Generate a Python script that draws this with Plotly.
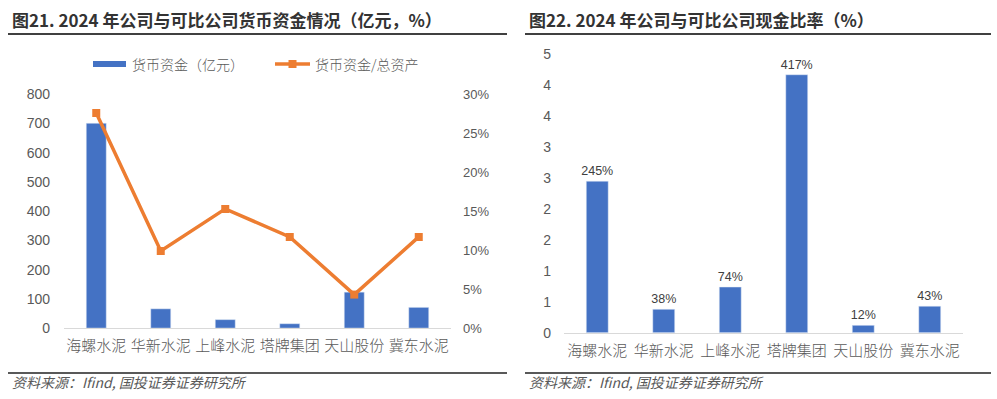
import plotly.graph_objects as go

# ---------------- data ----------------
companies = ["海螺水泥", "华新水泥", "上峰水泥", "塔牌集团", "天山股份", "冀东水泥"]
cash_yi = [701, 66, 29, 15, 123, 71]                       # 货币资金（亿元）
cash_ratio_assets = [0.276, 0.099, 0.153, 0.117, 0.043, 0.117]  # 货币资金/总资产
cash_ratio = [2.45, 0.38, 0.74, 4.17, 0.12, 0.43]           # 现金比率
left_y_ticks = [0, 100, 200, 300, 400, 500, 600, 700, 800]
right_pct_ticks = [0, 0.05, 0.10, 0.15, 0.20, 0.25, 0.30]
right_pct_text = ["0%", "5%", "10%", "15%", "20%", "25%", "30%"]
ratio_tick_vals = [0, 0.5, 1, 1.5, 2, 2.5, 3, 3.5, 4, 4.5]
ratio_tick_text = ["0", "1", "1", "2", "2", "3", "3", "4", "4", "5"]
title_left = "图21. 2024 年公司与可比公司货币资金情况（亿元，%）"
title_right = "图22. 2024 年公司与可比公司现金比率（%）"
legend_bar = "货币资金（亿元）"
legend_line = "货币资金/总资产"
source_text = "资料来源：Ifind, 国投证券证券研究所"

W, H = 997, 407
S = 0.98          # observed vertical factor of the viewer
OFF, K = 7.0, 0.98  # observed offset / compression correction


def px(x):
    return x / W


def py(y):
    yc = (y - OFF) / K
    return (H - yc / S) / H


BLUE = "#4472C4"
ORANGE = "#ED7D31"
GRAY = "#595959"
CJK = "Noto Sans CJK SC"
NUM = "Liberation Sans, Arial, sans-serif"

fig = go.Figure()

fig.add_trace(go.Bar(x=companies, y=cash_yi, marker_color=BLUE, width=0.31,
                     xaxis="x", yaxis="y", showlegend=False, name=legend_bar))
fig.add_trace(go.Scatter(x=companies, y=cash_ratio_assets, mode="lines+markers",
                         line=dict(color=ORANGE, width=3.5),
                         marker=dict(symbol="square", size=8, color=ORANGE),
                         xaxis="x", yaxis="y2", showlegend=False, name=legend_line))
fig.add_trace(go.Bar(x=companies, y=cash_ratio, marker_color=BLUE, width=0.33,
                     text=[f"{v*100:.0f}%" for v in cash_ratio],
                     textposition="outside", cliponaxis=False, constraintext="none",
                     textfont=dict(family=NUM, size=12.5, color="#404040"),
                     xaxis="x2", yaxis="y3", showlegend=False))

axis_common = dict(showgrid=False, zeroline=False)
cat_font = dict(family=CJK, size=15, color=GRAY, weight=300)

fig.update_layout(
    width=W, height=H, margin=dict(l=0, r=0, t=0, b=0),
    paper_bgcolor="white", plot_bgcolor="white",
    showlegend=False,
    xaxis=dict(domain=[px(64), px(451)], anchor="y", showline=True, linecolor="#D9D9D9",
               linewidth=1, tickfont=cat_font, ticks="outside", ticklen=4,
               tickcolor="rgba(0,0,0,0)", **axis_common),
    yaxis=dict(domain=[py(327), py(93.3)], anchor="x", range=[0, 800],
               tickvals=left_y_ticks, tickfont=dict(family=NUM, size=14, color=GRAY),
               ticklabelstandoff=13, showline=False, **axis_common),
    yaxis2=dict(domain=[py(327), py(93.3)], anchor="x", overlaying="y", side="right",
                range=[0, 0.30], tickvals=right_pct_ticks, ticktext=right_pct_text,
                tickfont=dict(family=NUM, size=13, color=GRAY),
                ticklabelstandoff=11, showline=False, **axis_common),
    xaxis2=dict(domain=[px(564), px(963)], anchor="y3", showline=True, linecolor="#D9D9D9",
                linewidth=1, tickfont=cat_font, ticks="outside", ticklen=4,
                tickcolor="rgba(0,0,0,0)", **axis_common),
    yaxis3=dict(domain=[py(331.7), py(53.3)], anchor="x2", range=[0, 4.5],
                tickvals=ratio_tick_vals, ticktext=ratio_tick_text,
                tickfont=dict(family=NUM, size=14, color=GRAY),
                ticklabelstandoff=12, showline=False, **axis_common),
)

shapes = []
annotations = []

for x0, x1, txt in [(8, 507, title_left), (525, 991, title_right)]:
    annotations.append(dict(x=px(x0 + 2), y=py(18), xref="paper", yref="paper",
                            text=f"<b>{txt}</b>", showarrow=False, xanchor="left",
                            yanchor="middle",
                            font=dict(family=CJK, size=17, color="#333333")))
    shapes.append(dict(type="line", xref="paper", yref="paper", x0=px(x0), x1=px(x1),
                       y0=py(33), y1=py(33), line=dict(color="#404040", width=2)))
    shapes.append(dict(type="line", xref="paper", yref="paper", x0=px(x0), x1=px(x1),
                       y0=py(372), y1=py(372), line=dict(color="#222222", width=1.5)))
    annotations.append(dict(x=px(x0 + 2), y=py(381), xref="paper", yref="paper",
                            text=f"<i>{source_text}</i>", showarrow=False, xanchor="left",
                            yanchor="middle", font=dict(family=CJK, size=14, color=GRAY)))

# legend (left chart)
shapes.append(dict(type="rect", xref="paper", yref="paper", x0=px(93), x1=px(126),
                   y0=py(66), y1=py(60), fillcolor=BLUE, line=dict(width=0)))
annotations.append(dict(x=px(130), y=py(63), xref="paper", yref="paper", text=legend_bar,
                        showarrow=False, xanchor="left", yanchor="middle",
                        font=dict(family=CJK, size=14, color=GRAY, weight=300)))
shapes.append(dict(type="line", xref="paper", yref="paper", x0=px(275), x1=px(310),
                   y0=py(63), y1=py(63), line=dict(color=ORANGE, width=3.5)))
shapes.append(dict(type="rect", xref="paper", yref="paper", x0=px(288.5), x1=px(296.5),
                   y0=py(67), y1=py(59), fillcolor=ORANGE, line=dict(width=0)))
annotations.append(dict(x=px(313), y=py(63), xref="paper", yref="paper", text=legend_line,
                        showarrow=False, xanchor="left", yanchor="middle",
                        font=dict(family=CJK, size=14, color=GRAY, weight=300)))

fig.update_layout(shapes=shapes, annotations=annotations)

fig.write_html("out.html", config={"displayModeBar": False},
               post_script="document.documentElement.style.margin='0';document.body.style.margin='0';document.documentElement.style.overflow='hidden';document.body.style.overflow='hidden';")
